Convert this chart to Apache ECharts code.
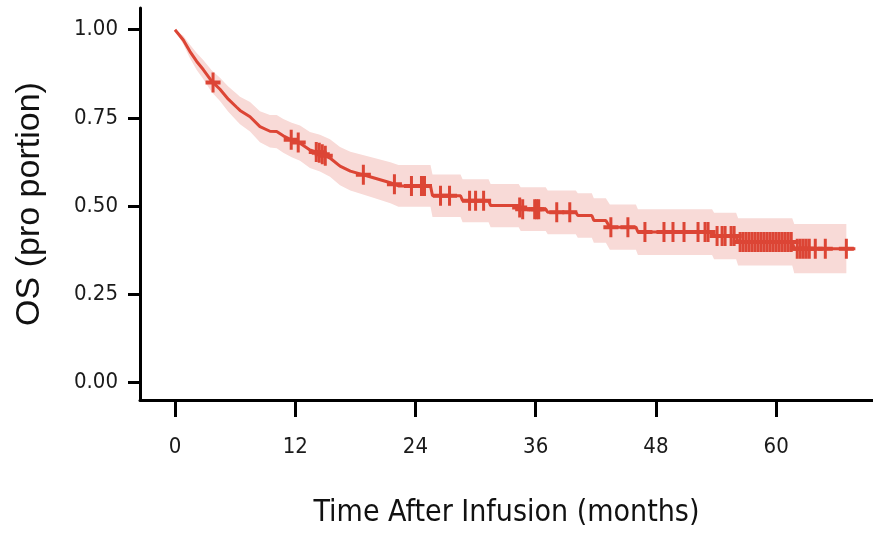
<!DOCTYPE html>
<html>
<head>
<meta charset="utf-8">
<title>OS Kaplan-Meier</title>
<script src="https://cdn.jsdelivr.net/npm/echarts@6/dist/echarts.min.js"></script>
<style>
  html, body { margin: 0; padding: 0; background: #fff; }
  #chart { width: 873px; height: 533px; }
</style>
</head>
<body>
<div id="chart"></div>
<script>
// points the KM curve passes through (months, proportion)
const curveTimes = [0, 0.83, 1.50, 2.17, 2.82, 3.66, 4.49, 5.32, 6.16, 6.49, 7.49, 8.48, 9.48, 10.15, 10.81, 11.65, 12.48,
  13.47, 14.47, 15.47, 16.47, 17.5, 19.8, 21.5, 22.3, 25.5, 25.7, 28.5, 28.7, 31.3, 31.5, 34.3, 34.5, 37.0, 37.2, 40.0,
  40.2, 41.6, 41.8, 43.0, 43.4, 46.0, 46.2, 53.6, 53.8, 56.0, 56.2, 61.6, 61.8, 67.9];
const survival = [1.000, 0.971, 0.938, 0.910, 0.887, 0.854, 0.831, 0.803, 0.780, 0.771, 0.753, 0.725, 0.712, 0.711, 0.699, 0.687, 0.678,
  0.659, 0.650, 0.636, 0.613, 0.599, 0.580, 0.566, 0.557, 0.557, 0.529, 0.529, 0.515, 0.515, 0.501, 0.501, 0.491, 0.491, 0.482, 0.482,
  0.473, 0.473, 0.459, 0.459, 0.440, 0.440, 0.426, 0.426, 0.415, 0.415, 0.398, 0.398, 0.379, 0.379];
// 95% confidence band at the same times
const lowerCI = [1.000, 0.959, 0.919, 0.886, 0.860, 0.823, 0.798, 0.767, 0.742, 0.732, 0.711, 0.681, 0.666, 0.664, 0.651, 0.638, 0.628,
  0.608, 0.598, 0.583, 0.559, 0.544, 0.523, 0.508, 0.498, 0.498, 0.469, 0.469, 0.454, 0.454, 0.440, 0.440, 0.429, 0.429, 0.420, 0.420,
  0.410, 0.410, 0.396, 0.396, 0.376, 0.376, 0.361, 0.361, 0.349, 0.349, 0.331, 0.331, 0.309, 0.309];
const upperCI = [1.000, 0.983, 0.957, 0.934, 0.914, 0.885, 0.864, 0.839, 0.818, 0.810, 0.795, 0.769, 0.758, 0.758, 0.747, 0.736, 0.728,
  0.710, 0.702, 0.689, 0.667, 0.654, 0.637, 0.624, 0.616, 0.616, 0.589, 0.589, 0.576, 0.576, 0.562, 0.562, 0.553, 0.553, 0.544, 0.544,
  0.536, 0.536, 0.522, 0.522, 0.504, 0.504, 0.491, 0.491, 0.481, 0.481, 0.465, 0.465, 0.449, 0.449];
const bandEnd = 67.0;

// censored observations (months)
const censorTimes = [3.8, 11.6, 12.3, 14.1, 14.4, 14.7, 15.0, 18.8, 21.9, 23.6, 24.6, 24.9, 26.5, 27.4, 29.4, 30.0, 30.8,
  34.4, 34.7, 35.9, 36.1, 36.3, 38.1, 39.4, 43.5, 45.2, 46.9, 48.8, 49.7, 50.8, 52.2, 52.9, 53.2, 54.1, 54.6, 54.9,
  55.5, 55.8, 56.4, 56.7, 57.0, 57.3, 57.6, 57.9, 58.2, 58.5, 58.8, 59.1, 59.4, 59.7, 60.0, 60.3, 60.6, 60.9, 61.2,
  61.5, 62.1, 62.4, 62.7, 63.0, 63.3, 63.9, 64.9, 67.0];

const xTicks = [0, 12, 24, 36, 48, 60];
const yTicks = [0, 0.25, 0.5, 0.75, 1];

const RED = '#dc4535';
const BAND = '#f8dad7';
const CONDENSED = '"DejaVu Sans Condensed", "Liberation Sans", sans-serif';

// y of the curve at time t, so each censor mark sits on the line
function survAt(t) {
  for (let i = 1; i < curveTimes.length; i++) {
    if (t <= curveTimes[i]) {
      const t0 = curveTimes[i - 1], t1 = curveTimes[i];
      const f = (t - t0) / (t1 - t0);
      return survival[i - 1] + f * (survival[i] - survival[i - 1]);
    }
  }
  return survival[survival.length - 1];
}

const lineData = curveTimes.map((t, i) => [t, survival[i]]);
const bandTimes = curveTimes.slice(0, -1).concat([bandEnd]);
const censorData = censorTimes.map(t => [t, survAt(t)]);

const chart = echarts.init(document.getElementById('chart'), null, { renderer: 'canvas', width: 873, height: 533 });

const option = {
  animation: false,
  grid: { left: 140, width: 733, top: 8, height: 397 },
  xAxis: {
    type: 'value',
    min: -3.49,
    max: 69.66,
    name: 'Time After Infusion (months)',
    nameLocation: 'middle',
    nameGap: 98,
    nameTextStyle: { fontFamily: CONDENSED, fontSize: 30, color: '#111' },
    axisLine: { show: true, onZero: false, lineStyle: { color: '#000', width: 3 } },
    axisTick: { show: true, length: 17, customValues: xTicks, lineStyle: { color: '#000', width: 3 } },
    axisLabel: { customValues: xTicks, fontFamily: CONDENSED, fontSize: 22, color: '#1a1a1a', margin: 36 },
    splitLine: { show: false }
  },
  yAxis: {
    type: 'value',
    min: -0.0504,
    max: 1.0616,
    name: 'OS (pro portion)',
    nameLocation: 'middle',
    nameGap: 93,
    nameTextStyle: { fontFamily: '"Liberation Sans", Arial, sans-serif', fontSize: 34, color: '#111' },
    axisLine: { show: true, onZero: false, lineStyle: { color: '#000', width: 3 } },
    axisTick: { show: true, length: 12, customValues: yTicks, lineStyle: { color: '#000', width: 3 } },
    axisLabel: {
      customValues: yTicks,
      fontFamily: CONDENSED, fontSize: 22, color: '#1a1a1a', margin: 22,
      formatter: v => v.toFixed(2)
    },
    splitLine: { show: false }
  },
  series: [
    {
      name: 'CI', type: 'custom', data: [[0, 0]], silent: true, z: 1,
      renderItem: (params, api) => {
        const top = bandTimes.map((t, i) => api.coord([t, upperCI[i]]));
        const bottom = bandTimes.map((t, i) => api.coord([t, lowerCI[i]])).reverse();
        return { type: 'polygon', shape: { points: top.concat(bottom) }, style: { fill: BAND } };
      }
    },
    {
      name: 'OS', type: 'line', data: lineData,
      symbol: 'none', lineStyle: { color: RED, width: 3 }, z: 3
    },
    {
      name: 'censored', type: 'scatter', data: censorData,
      symbol: 'path://M6,0H9V8H15V12H9V20H6V12H0V8H6Z',
      symbolSize: [15, 20],
      itemStyle: { color: RED, opacity: 1 },
      z: 4
    }
  ]
};

chart.setOption(option);
</script>
</body>
</html>
